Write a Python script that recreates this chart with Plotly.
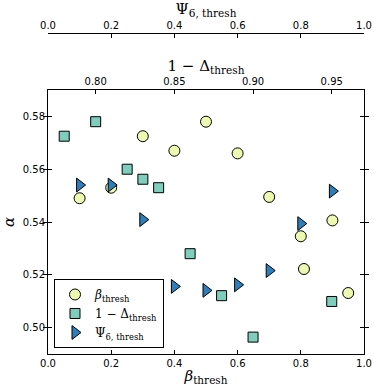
import plotly.graph_objects as go

# alpha against each threshold parameter
beta_thresh = [0.1, 0.2, 0.3, 0.4, 0.5, 0.6, 0.7, 0.8, 0.81, 0.9, 0.95]
alpha_beta = [0.549, 0.553, 0.5725, 0.567, 0.578, 0.566, 0.5495, 0.5346, 0.5222, 0.5406, 0.5131]

one_minus_delta = [0.78, 0.80, 0.82, 0.83, 0.84, 0.86, 0.88, 0.90, 0.95]
alpha_delta = [0.5725, 0.578, 0.560, 0.5562, 0.553, 0.528, 0.5121, 0.4964, 0.5099]

psi6_thresh = [0.1, 0.2, 0.3, 0.4, 0.5, 0.6, 0.7, 0.8, 0.9]
alpha_psi = [0.554, 0.554, 0.5409, 0.5156, 0.5141, 0.5162, 0.5216, 0.5394, 0.5517]

TICK_FONT = dict(family='DejaVu Sans', size=10, color='black')
MATH_FONT = dict(family='DejaVu Serif', size=15, color='black')

fig = go.Figure()
fig.add_trace(go.Scatter(
    x=beta_thresh, y=alpha_beta, mode='markers', xaxis='x', yaxis='y',
    name='<i>β</i><sub>thresh</sub>',
    marker=dict(symbol='circle', size=11, color='#edf8b1', line=dict(color='black', width=1)),
))
fig.add_trace(go.Scatter(
    x=one_minus_delta, y=alpha_delta, mode='markers', xaxis='x2', yaxis='y',
    name='1 − Δ<sub>thresh</sub>',
    marker=dict(symbol='square', size=10, color='#7fcdbb', line=dict(color='black', width=1)),
))
fig.add_trace(go.Scatter(
    x=psi6_thresh, y=alpha_psi, mode='markers', xaxis='x3', yaxis='y',
    name='Ψ<sub>6, thresh</sub>',
    marker=dict(symbol='triangle-right', size=12, color='#2c7fb8', line=dict(color='black', width=1)),
))

axis_common = dict(showline=True, linecolor='black', linewidth=1, showgrid=False,
                   zeroline=False, ticks='inside', ticklen=4, tickcolor='black',
                   tickfont=TICK_FONT, automargin=False)

fig.update_layout(
    width=374, height=388,
    margin=dict(l=48, r=10, t=33, b=34),
    paper_bgcolor='white', plot_bgcolor='white',
    xaxis=dict(range=[0, 1], dtick=0.2, tickformat='.1f', anchor='y',
               title=dict(text='<i>β</i><sub>thresh</sub>', font=MATH_FONT, standoff=2),
               **axis_common),
    xaxis2=dict(range=[0.7697, 0.9705], tickvals=[0.80, 0.85, 0.90, 0.95], tickformat='.2f',
                overlaying='x', side='top', anchor='y',
                title=dict(text='1 − Δ<sub>thresh</sub>', font=MATH_FONT, standoff=0),
                **axis_common),
    xaxis3=dict(range=[0, 1], dtick=0.2, tickformat='.1f', overlaying='x', side='top',
                anchor='free', position=1,
                title=dict(text='Ψ<sub>6, thresh</sub>', font=MATH_FONT, standoff=2),
                **axis_common),
    yaxis=dict(range=[0.49, 0.59], tickvals=[0.50, 0.52, 0.54, 0.56, 0.58], tickformat='.2f',
               domain=[0, 0.8224], mirror='allticks',
               title=dict(text='<i>α</i>', font=MATH_FONT, standoff=6),
               **axis_common),
    legend=dict(x=0.019, y=0.0187, xanchor='left', yanchor='bottom',
                bgcolor='white', bordercolor='black', borderwidth=1,
                font=dict(family='DejaVu Serif', size=12, color='black'),
                itemwidth=30, tracegroupgap=0),
    showlegend=True,
)

# the page's default body margin would shift the figure
fig.write_html("out.html", config={'displayModeBar': False},
               post_script="document.body.style.margin='0';")
